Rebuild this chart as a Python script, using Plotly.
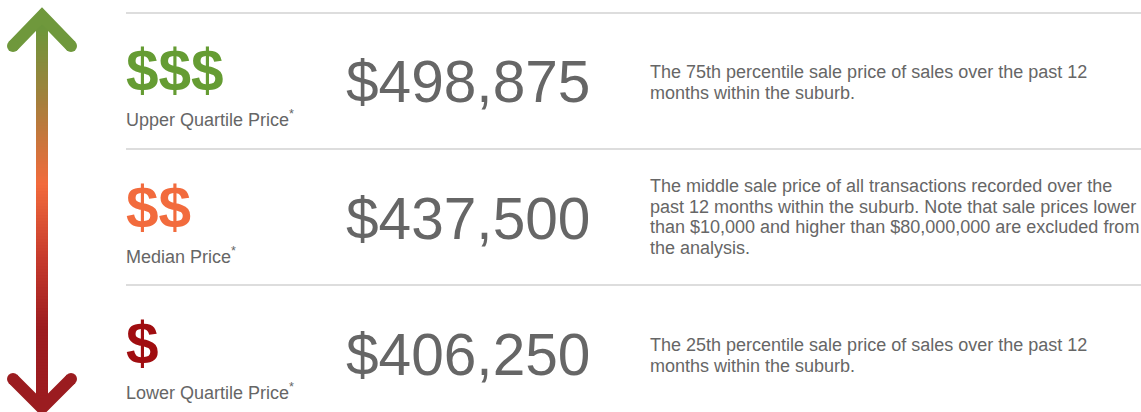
import plotly.graph_objects as go

# ---- data ----
tiers = ["Upper Quartile Price", "Median Price", "Lower Quartile Price"]
symbols = ["$$$", "$$", "$"]
prices = [498875, 437500, 406250]
description_lines = [
    ["The 75th percentile sale price of sales over the past 12",
     "months within the suburb."],
    ["The middle sale price of all transactions recorded over the",
     "past 12 months within the suburb. Note that sale prices lower",
     "than $10,000 and higher than $80,000,000 are excluded from",
     "the analysis."],
    ["The 25th percentile sale price of sales over the past 12",
     "months within the suburb."],
]
symbol_colors = ["#659c33", "#f26b3d", "#a00d10"]

W, H = 1141, 412
FONT = "Liberation Sans, Arial, sans-serif"
GREY = "#666666"

# layout rows (pixel centres)
row_sep = [13, 149, 285]
row_sym = [70, 207, 343]
row_price = [81, 218, 354]
row_desc_first = [72, 186, 345]
line_gap = 20.7
row_label = [118, 255, 391]

fig = go.Figure()
fig.add_trace(go.Scatter(x=[0, W], y=[0, H], mode="markers", marker=dict(opacity=0), hoverinfo="skip", showlegend=False))

shapes = []
annotations = []

for y in row_sep:
    shapes.append(dict(type="line", x0=126, x1=W, y0=y, y1=y, line=dict(color="#dddddd", width=2), layer="below"))

for i in range(3):
    annotations.append(dict(x=124, y=row_sym[i], text=f"<b>{symbols[i]}</b>", showarrow=False, xanchor="left", yanchor="middle",
                            font=dict(family=FONT, size=58.5, color=symbol_colors[i])))
    annotations.append(dict(x=124, y=row_label[i], text=f"{tiers[i]}<sup>*</sup>", showarrow=False, xanchor="left", yanchor="middle",
                            font=dict(family=FONT, size=18, color=GREY)))
    annotations.append(dict(x=344, y=row_price[i], text=f"${prices[i]:,}", showarrow=False, xanchor="left", yanchor="middle",
                            font=dict(family=FONT, size=58.6, color=GREY)))
    for j, line in enumerate(description_lines[i]):
        annotations.append(dict(x=648, y=row_desc_first[i] + j * line_gap, text=line, showarrow=False, xanchor="left",
                                yanchor="middle", align="left", font=dict(family=FONT, size=18, color=GREY)))

# gradient arrow (decorative)
def hex2rgb(h):
    h = h.lstrip("#")
    return tuple(int(h[k:k + 2], 16) for k in (0, 2, 4))

stops = [(14, "#619b3b"), (100, "#a3803c"), (185, "#f26b3c"), (260, "#c63a2c"), (330, "#9c1c20"), (411, "#9c1c20")]

def color_at(y):
    for (y0, c0), (y1, c1) in zip(stops[:-1], stops[1:]):
        if y0 <= y <= y1:
            t = (y - y0) / (y1 - y0)
            a, b = hex2rgb(c0), hex2rgb(c1)
            return "rgb(%d,%d,%d)" % tuple(round(a[k] + (b[k] - a[k]) * t) for k in range(3))
    return stops[-1][1]

AX = 42
LW = 12
y = 18
step = 3
while y < 406:
    shapes.append(dict(type="line", x0=AX, x1=AX, y0=y - 0.8, y1=y + step + 0.8, line=dict(color=color_at(y + step / 2), width=LW)))
    y += step

top_col = "#6f983c"
bot_col = "#9b1c20"
shapes.append(dict(type="path", path=f"M 13 46 L {AX} 16 L 71 46", line=dict(color=top_col, width=LW)))
shapes.append(dict(type="path", path=f"M 13 379 L {AX} 408 L 71 379", line=dict(color=bot_col, width=LW)))
for cx, cy, col in [(13, 46, top_col), (71, 46, top_col), (13, 379, bot_col), (71, 379, bot_col)]:
    r = LW / 2
    shapes.append(dict(type="circle", x0=cx - r, x1=cx + r, y0=cy - r, y1=cy + r, fillcolor=col, line=dict(width=0)))

fig.update_layout(
    width=W, height=H,
    margin=dict(l=0, r=0, t=0, b=0),
    paper_bgcolor="white", plot_bgcolor="white",
    xaxis=dict(range=[0, W], visible=False, fixedrange=True),
    yaxis=dict(range=[H, 0], visible=False, fixedrange=True),
    shapes=shapes, annotations=annotations, showlegend=False,
)

fig.write_html(
    "out.html",
    config={"displayModeBar": False},
    post_script="document.body.style.margin='0';document.body.style.overflow='hidden';",
)
